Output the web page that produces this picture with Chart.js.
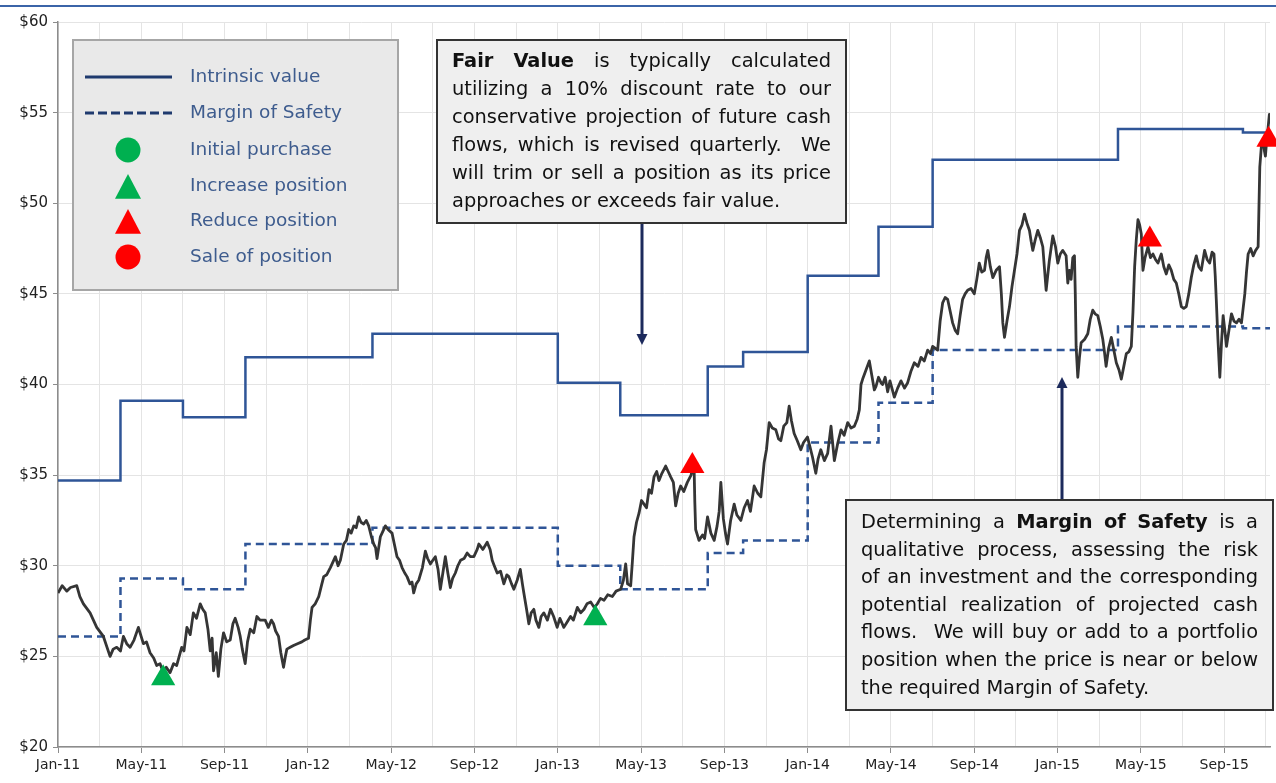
<!DOCTYPE html>
<html>
<head>
<meta charset="utf-8">
<title>Fair value and margin of safety</title>
<script src="https://cdn.jsdelivr.net/npm/chart.js@4.4.1/dist/chart.umd.min.js"></script>
<style>
  html, body { margin: 0; padding: 0; background: #fff; }
  #wrap { width: 1276px; height: 783px; }
</style>
</head>
<body>
<div id="wrap"><canvas id="valueChart" width="1276" height="783"></canvas></div>
<script>
// x values are months counted from 1 Jan 2011
const xTickLabels = ['Jan-11', 'May-11', 'Sep-11', 'Jan-12', 'May-12', 'Sep-12', 'Jan-13', 'May-13',
    'Sep-13', 'Jan-14', 'May-14', 'Sep-14', 'Jan-15', 'May-15', 'Sep-15'];

const intrinsicMonths = [0, 3, 6, 9, 15.1, 24, 27, 31.2, 32.9, 36, 39.4, 42, 50.9, 56.9, 58.2];
const intrinsicValues = [34.7, 39.1, 38.2, 41.5, 42.8, 40.1, 38.3, 41.0, 41.8, 46.0, 48.7, 52.4, 54.1, 53.9, 53.9];

const marginMonths = [0, 3, 6, 9, 15.1, 24, 27, 31.2, 32.9, 36, 39.4, 42, 50.9, 56.9, 58.2];
const marginValues = [26.1, 29.3, 28.7, 31.2, 32.1, 30.0, 28.7, 30.7, 31.4, 36.8, 39.0, 41.9, 43.2, 43.1, 43.1];

const increaseMonths = [5.05, 25.8];
const increaseValues = [23.8, 27.1];
const reduceMonths = [30.46, 52.43, 58.13];
const reduceValues = [35.5, 48.0, 53.5];

const priceMonths = [
    0.0, 0.2, 0.42, 0.6, 0.9, 1.05, 1.22, 1.54, 1.86, 2.18, 2.5, 2.65, 2.82, 3.0, 3.14, 3.3, 3.46, 3.65, 3.86, 4.1,
    4.25, 4.42, 4.6, 4.74, 4.9, 5.06, 5.2, 5.38, 5.55, 5.7, 5.94, 6.05, 6.19, 6.35, 6.5, 6.65, 6.83, 6.95, 7.07, 7.2,
    7.31, 7.4, 7.47, 7.6, 7.7, 7.82, 7.95, 8.1, 8.27, 8.4, 8.51, 8.65, 8.75, 8.85, 8.99, 9.1, 9.23, 9.4, 9.55, 9.7,
    9.95, 10.1, 10.25, 10.35, 10.45, 10.59, 10.7, 10.83, 10.92, 10.99, 11.15, 11.31, 11.5, 11.71, 11.85, 12.03, 12.12, 12.2, 12.35, 12.52,
    12.65, 12.76, 12.9, 13.08, 13.2, 13.32, 13.45, 13.56, 13.72, 13.85, 13.96, 14.08, 14.2, 14.32, 14.44, 14.55, 14.68, 14.8, 14.92, 15.05,
    15.16, 15.25, 15.32, 15.4, 15.48, 15.6, 15.72, 15.85, 16.04, 16.15, 16.28, 16.4, 16.52, 16.65, 16.76, 16.9, 17.0, 17.08, 17.2, 17.32,
    17.5, 17.64, 17.75, 17.88, 18.0, 18.12, 18.25, 18.36, 18.48, 18.6, 18.72, 18.84, 18.95, 19.08, 19.2, 19.33, 19.5, 19.65, 19.8, 19.97,
    20.13, 20.21, 20.4, 20.61, 20.75, 20.85, 20.95, 21.09, 21.25, 21.41, 21.55, 21.65, 21.78, 21.89, 22.05, 22.2, 22.3, 22.37, 22.5, 22.61,
    22.72, 22.85, 22.95, 23.09, 23.2, 23.33, 23.5, 23.65, 23.8, 23.97, 24.1, 24.29, 24.45, 24.61, 24.75, 24.94, 25.1, 25.26, 25.4, 25.58,
    25.75, 25.9, 26.05, 26.22, 26.4, 26.62, 26.8, 27.02, 27.15, 27.26, 27.35, 27.5, 27.58, 27.66, 27.78, 27.9, 28.02, 28.14, 28.26, 28.38,
    28.5, 28.62, 28.75, 28.86, 29.0, 29.18, 29.3, 29.42, 29.55, 29.66, 29.78, 29.9, 30.05, 30.22, 30.4, 30.54, 30.58, 30.62, 30.78, 30.95,
    31.05, 31.19, 31.35, 31.51, 31.65, 31.75, 31.83, 31.95, 32.05, 32.15, 32.3, 32.47, 32.6, 32.79, 32.95, 33.11, 33.25, 33.43, 33.6, 33.75,
    33.91, 34.02, 34.15, 34.3, 34.47, 34.6, 34.71, 34.85, 35.0, 35.11, 35.22, 35.35, 35.5, 35.67, 35.8, 35.99, 36.1, 36.23, 36.39, 36.5,
    36.63, 36.8, 36.96, 37.12, 37.28, 37.45, 37.6, 37.75, 37.92, 38.08, 38.24, 38.38, 38.48, 38.56, 38.64, 38.8, 38.96, 39.08, 39.2, 39.28,
    39.4, 39.52, 39.6, 39.72, 39.84, 39.95, 40.16, 40.32, 40.48, 40.65, 40.8, 40.95, 41.12, 41.3, 41.44, 41.6, 41.76, 41.9, 42.0, 42.12,
    42.24, 42.36, 42.48, 42.6, 42.72, 42.85, 42.96, 43.08, 43.2, 43.32, 43.44, 43.56, 43.68, 43.84, 44.0, 44.12, 44.24, 44.36, 44.49, 44.57,
    44.65, 44.77, 44.89, 45.05, 45.21, 45.3, 45.37, 45.45, 45.57, 45.69, 45.81, 45.93, 46.05, 46.17, 46.29, 46.41, 46.53, 46.65, 46.73, 46.81,
    46.93, 47.05, 47.17, 47.29, 47.37, 47.45, 47.6, 47.77, 47.9, 48.01, 48.13, 48.25, 48.41, 48.49, 48.57, 48.65, 48.73, 48.81, 48.85, 48.89,
    48.97, 49.05, 49.13, 49.3, 49.45, 49.57, 49.69, 49.8, 49.93, 50.05, 50.17, 50.25, 50.33, 50.45, 50.58, 50.7, 50.82, 50.95, 51.06, 51.18,
    51.3, 51.42, 51.54, 51.62, 51.7, 51.78, 51.86, 51.94, 52.02, 52.1, 52.2, 52.34, 52.46, 52.58, 52.7, 52.82, 52.98, 53.1, 53.22, 53.34,
    53.46, 53.58, 53.7, 53.82, 53.94, 54.06, 54.18, 54.3, 54.42, 54.54, 54.66, 54.78, 54.9, 55.06, 55.18, 55.3, 55.42, 55.51, 55.57, 55.62,
    55.7, 55.79, 55.87, 55.95, 56.03, 56.11, 56.23, 56.35, 56.47, 56.59, 56.71, 56.83, 56.91, 56.99, 57.07, 57.15, 57.27, 57.39, 57.51, 57.63,
    57.71, 57.79, 57.87, 57.93, 57.98, 58.05, 58.11, 58.17, 58.2
];
const priceValues = [
    28.5, 28.9, 28.6, 28.8, 28.9, 28.3, 27.9, 27.4, 26.6, 26.1, 25.0, 25.4, 25.5, 25.3, 26.1, 25.7, 25.5, 25.9, 26.6, 25.7,
    25.8, 25.2, 24.9, 24.5, 24.6, 24.1, 24.4, 24.1, 24.6, 24.5, 25.5, 25.3, 26.6, 26.2, 27.4, 27.1, 27.9, 27.6, 27.4, 26.5,
    25.3, 26.0, 24.2, 25.2, 23.9, 25.4, 26.3, 25.8, 25.9, 26.8, 27.1, 26.6, 26.1, 25.4, 24.6, 25.8, 26.5, 26.3, 27.2, 27.0,
    27.0, 26.6, 27.0, 26.8, 26.4, 26.1, 25.2, 24.4, 25.0, 25.4, 25.5, 25.6, 25.7, 25.8, 25.9, 26.0, 27.0, 27.7, 27.9, 28.3,
    28.9, 29.4, 29.5, 29.9, 30.2, 30.5, 30.0, 30.3, 31.2, 31.4, 32.0, 31.8, 32.2, 32.1, 32.7, 32.4, 32.3, 32.5, 32.2, 31.6,
    31.2, 31.0, 30.4, 31.0, 31.6, 31.9, 32.2, 32.0, 31.8, 31.2, 30.5, 30.3, 29.9, 29.6, 29.4, 29.0, 29.1, 28.5, 29.0, 29.2,
    29.9, 30.8, 30.4, 30.1, 30.3, 30.5, 29.8, 28.7, 29.6, 30.5, 29.6, 28.8, 29.3, 29.6, 30.0, 30.3, 30.4, 30.7, 30.5, 30.5,
    30.9, 31.2, 30.9, 31.3, 30.9, 30.3, 30.0, 29.6, 29.7, 29.0, 29.5, 29.4, 29.0, 28.7, 29.2, 29.8, 29.0, 28.5, 27.6, 26.8,
    27.4, 27.6, 27.0, 26.6, 27.2, 27.4, 27.0, 27.6, 27.2, 26.6, 27.1, 26.6, 26.9, 27.2, 27.0, 27.7, 27.4, 27.6, 27.9, 28.0,
    27.7, 27.9, 28.2, 28.1, 28.4, 28.3, 28.6, 28.7, 29.2, 30.1, 29.0, 28.9, 30.2, 31.6, 32.4, 32.9, 33.6, 33.4, 33.2, 34.2,
    34.0, 34.9, 35.2, 34.7, 35.1, 35.5, 35.2, 34.9, 34.6, 33.3, 34.0, 34.4, 34.1, 34.6, 35.0, 35.7, 33.5, 32.0, 31.4, 31.7,
    31.5, 32.7, 31.8, 31.4, 32.2, 33.0, 34.6, 32.6, 31.8, 31.2, 32.5, 33.4, 32.8, 32.5, 33.2, 33.6, 33.0, 34.4, 34.0, 33.8,
    35.7, 36.4, 37.9, 37.6, 37.5, 37.0, 36.9, 37.7, 37.9, 38.8, 38.0, 37.3, 36.9, 36.4, 36.8, 37.1, 36.6, 36.0, 35.1, 35.9,
    36.4, 35.8, 36.2, 37.7, 35.8, 36.8, 37.5, 37.2, 37.9, 37.6, 37.7, 38.1, 38.6, 40.0, 40.3, 40.8, 41.3, 40.5, 39.7, 39.9,
    40.4, 40.1, 40.0, 40.4, 39.6, 40.2, 39.3, 39.8, 40.2, 39.8, 40.1, 40.7, 41.2, 41.0, 41.5, 41.3, 41.9, 41.7, 42.1, 42.0,
    41.9, 43.5, 44.5, 44.8, 44.7, 44.0, 43.4, 43.0, 42.8, 43.8, 44.7, 45.0, 45.2, 45.3, 45.0, 45.8, 46.7, 46.2, 46.3, 47.0,
    47.4, 46.5, 45.9, 46.3, 46.5, 45.0, 43.4, 42.6, 43.5, 44.3, 45.4, 46.3, 47.2, 48.5, 48.8, 49.4, 48.9, 48.5, 47.9, 47.4,
    48.0, 48.5, 48.1, 47.6, 46.4, 45.2, 46.8, 48.2, 47.6, 46.7, 47.2, 47.4, 47.1, 45.6, 46.3, 45.8, 47.0, 47.1, 45.0, 42.1,
    40.4, 41.5, 42.3, 42.5, 42.8, 43.6, 44.1, 43.9, 43.8, 43.2, 42.5, 41.8, 41.0, 42.0, 42.6, 41.9, 41.2, 40.8, 40.3, 41.0,
    41.7, 41.8, 42.1, 44.0, 46.5, 48.0, 49.1, 48.8, 48.3, 46.3, 47.0, 47.6, 47.0, 47.2, 46.9, 46.7, 47.2, 46.5, 46.1, 46.6,
    46.3, 45.8, 45.6, 45.0, 44.3, 44.2, 44.3, 45.0, 45.9, 46.6, 47.1, 46.5, 46.3, 47.4, 46.9, 46.7, 47.3, 47.2, 46.0, 44.7,
    42.5, 40.4, 42.3, 43.8, 43.0, 42.1, 43.0, 43.9, 43.5, 43.4, 43.6, 43.4, 44.2, 45.0, 46.2, 47.2, 47.5, 47.1, 47.4, 47.6,
    52.0, 53.2, 53.5, 52.9, 52.6, 53.6, 54.2, 54.9, 54.4
];

const fairValueLines = [
    '**Fair** **Value** is typically calculated',
    'utilizing a 10% discount rate to our',
    'conservative projection of future cash',
    'flows, which is revised quarterly.  We',
    'will trim or sell a position as its price',
    'approaches or exceeds fair value.'
];
const marginLines = [
    'Determining a **Margin** **of** **Safety** is a',
    'qualitative process, assessing the risk',
    'of an investment and the corresponding',
    'potential realization of projected cash',
    'flows.  We will buy or add to a portfolio',
    'position when the price is near or below',
    'the required Margin of Safety.'
];

const FONT = '"DejaVu Sans", Verdana, sans-serif';
const toPoints = (xs, ys) => xs.map((x, i) => ({ x: x, y: ys[i] }));

// one line of text spread to the full width (last line of a paragraph is left aligned)
function drawJustified(ctx, line, x, y, width, justify, size) {
    const words = [];
    const gaps = [];
    let extra = 0;
    line.split(' ').forEach(p => {
        if (p === '') { extra++; return; }
        if (words.length) gaps.push(1 + extra);
        extra = 0;
        const bold = p.startsWith('**');
        words.push({ t: p.replace(/\*\*/g, ''), bold: bold });
    });
    let total = 0;
    words.forEach(w => {
        ctx.font = (w.bold ? 'bold ' : '') + size + 'px ' + FONT;
        w.w = ctx.measureText(w.t).width;
        total += w.w;
    });
    ctx.font = size + 'px ' + FONT;
    const space = ctx.measureText(' ').width;
    const weight = gaps.reduce((a, b) => a + b, 0);
    const unit = justify && weight ? (width - total) / weight : space;
    let cx = x;
    words.forEach((w, i) => {
        ctx.font = (w.bold ? 'bold ' : '') + size + 'px ' + FONT;
        ctx.fillText(w.t, cx, y);
        cx += w.w + (i < gaps.length ? gaps[i] * unit : 0);
    });
}

function drawNote(ctx, box, lines) {
    ctx.fillStyle = '#efefef';
    ctx.fillRect(box.x, box.y, box.w, box.h);
    ctx.strokeStyle = '#333';
    ctx.lineWidth = 2;
    ctx.strokeRect(box.x, box.y, box.w, box.h);
    ctx.fillStyle = '#111';
    ctx.textBaseline = 'alphabetic';
    ctx.textAlign = 'left';
    lines.forEach((l, i) => {
        drawJustified(ctx, l, box.x + 15, box.y + box.first + i * box.lead, box.w - 30, i < lines.length - 1, 19.4);
    });
}

function drawArrow(ctx, x, from, to) {
    const dir = Math.sign(to - from);
    ctx.strokeStyle = '#1c2a5c';
    ctx.fillStyle = '#1c2a5c';
    ctx.lineWidth = 3;
    ctx.beginPath();
    ctx.moveTo(x, from);
    ctx.lineTo(x, to - dir * 8);
    ctx.stroke();
    ctx.beginPath();
    ctx.moveTo(x, to);
    ctx.lineTo(x - 5.5, to - dir * 11);
    ctx.lineTo(x + 5.5, to - dir * 11);
    ctx.closePath();
    ctx.fill();
}

function triangle(ctx, cx, cy, half, color) {
    ctx.fillStyle = color;
    ctx.beginPath();
    ctx.moveTo(cx, cy - half);
    ctx.lineTo(cx + half, cy + half * 0.9);
    ctx.lineTo(cx - half, cy + half * 0.9);
    ctx.closePath();
    ctx.fill();
}

function drawLegend(ctx) {
    ctx.fillStyle = '#e9e9e9';
    ctx.fillRect(73, 40, 325, 250);
    ctx.strokeStyle = '#a6a6a6';
    ctx.lineWidth = 2;
    ctx.strokeRect(73, 40, 325, 250);

    const rows = [
        { label: 'Intrinsic value', y: 77 },
        { label: 'Margin of Safety', y: 113 },
        { label: 'Initial purchase', y: 150 },
        { label: 'Increase position', y: 186 },
        { label: 'Reduce position', y: 221 },
        { label: 'Sale of position', y: 257 }
    ];
    ctx.strokeStyle = '#1f3a6e';
    ctx.lineWidth = 3;
    ctx.beginPath(); ctx.moveTo(85, 77); ctx.lineTo(172, 77); ctx.stroke();
    ctx.setLineDash([9, 4]);
    ctx.beginPath(); ctx.moveTo(85, 113); ctx.lineTo(172, 113); ctx.stroke();
    ctx.setLineDash([]);
    ctx.fillStyle = '#00b050';
    ctx.beginPath(); ctx.arc(128, 150, 12.5, 0, Math.PI * 2); ctx.fill();
    triangle(ctx, 128, 187, 13, '#00b050');
    triangle(ctx, 128, 222, 13, '#ff0000');
    ctx.fillStyle = '#ff0000';
    ctx.beginPath(); ctx.arc(128, 257, 12.5, 0, Math.PI * 2); ctx.fill();

    ctx.fillStyle = '#3e5c8e';
    ctx.font = '18.5px ' + FONT;
    ctx.textBaseline = 'middle';
    ctx.textAlign = 'left';
    rows.forEach(r => ctx.fillText(r.label, 190, r.y));
}

const overlay = {
    id: 'overlay',
    beforeDraw(chart) {
        const ctx = chart.ctx;
        ctx.save();
        ctx.fillStyle = '#fff';
        ctx.fillRect(0, 0, chart.width, chart.height);
        ctx.strokeStyle = '#3b64a8';
        ctx.lineWidth = 2;
        ctx.beginPath(); ctx.moveTo(0, 6); ctx.lineTo(chart.width, 6); ctx.stroke();
        ctx.restore();
    },
    afterDraw(chart) {
        const ctx = chart.ctx;
        ctx.save();
        drawLegend(ctx);
        drawArrow(ctx, 642, 224, 345);
        drawArrow(ctx, 1062, 500, 377);
        drawNote(ctx, { x: 437, y: 40, w: 409, h: 183, first: 27, lead: 28 }, fairValueLines);
        drawNote(ctx, { x: 846, y: 500, w: 427, h: 210, first: 28, lead: 27.6 }, marginLines);
        ctx.restore();
    }
};

new Chart(document.getElementById('valueChart'), {
    type: 'line',
    data: {
        datasets: [
            {
                label: 'Increase position',
                data: toPoints(increaseMonths, increaseValues),
                showLine: false,
                pointStyle: 'triangle',
                pointRadius: 14,
                pointBorderWidth: 0,
                pointBackgroundColor: '#00b050',
                clip: false,
                order: 0
            },
            {
                label: 'Reduce position',
                data: toPoints(reduceMonths, reduceValues),
                showLine: false,
                pointStyle: 'triangle',
                pointRadius: 14,
                pointBorderWidth: 0,
                pointBackgroundColor: '#ff0000',
                clip: false,
                order: 0
            },
            {
                label: 'Price',
                data: toPoints(priceMonths, priceValues),
                borderColor: '#353535',
                borderWidth: 2.8,
                borderJoinStyle: 'round',
                pointRadius: 0,
                tension: 0,
                order: 1
            },
            {
                label: 'Margin of Safety',
                data: toPoints(marginMonths, marginValues),
                stepped: 'before',
                borderColor: '#2f5597',
                borderWidth: 2.5,
                borderDash: [8, 5],
                pointRadius: 0,
                order: 2
            },
            {
                label: 'Intrinsic value',
                data: toPoints(intrinsicMonths, intrinsicValues),
                stepped: 'before',
                borderColor: '#2f5597',
                borderWidth: 2.5,
                pointRadius: 0,
                order: 3
            }
        ]
    },
    options: {
        responsive: false,
        animation: false,
        devicePixelRatio: 1,
        events: [],
        layout: { autoPadding: false, padding: { top: 22, right: 6, left: 0, bottom: 0 } },
        plugins: { legend: { display: false }, tooltip: { enabled: false } },
        scales: {
            x: {
                type: 'linear',
                min: 0,
                max: 58.2,
                afterFit: s => { s.height = 36; },
                border: { color: '#8c8c8c', width: 1.5 },
                grid: {
                    color: '#e4e4e4',
                    tickLength: 6,
                    tickColor: c => (c.tick && c.tick.value % 4 === 0) ? '#8c8c8c' : 'rgba(0,0,0,0)'
                },
                ticks: {
                    stepSize: 2,
                    includeBounds: false,
                    autoSkip: false,
                    maxRotation: 0,
                    padding: 4,
                    color: '#222',
                    font: { family: FONT, size: 14 },
                    callback: v => v % 4 === 0 ? xTickLabels[v / 4] : ''
                }
            },
            y: {
                min: 20,
                max: 60,
                afterFit: s => { s.width = 58; },
                border: { color: '#8c8c8c', width: 1.5 },
                grid: { color: '#e4e4e4', tickLength: 5, tickColor: '#8c8c8c' },
                ticks: {
                    stepSize: 5,
                    padding: 5,
                    color: '#222',
                    font: { family: FONT, size: 15 },
                    callback: v => '$' + v
                }
            }
        }
    },
    plugins: [overlay]
});
</script>
</body>
</html>
